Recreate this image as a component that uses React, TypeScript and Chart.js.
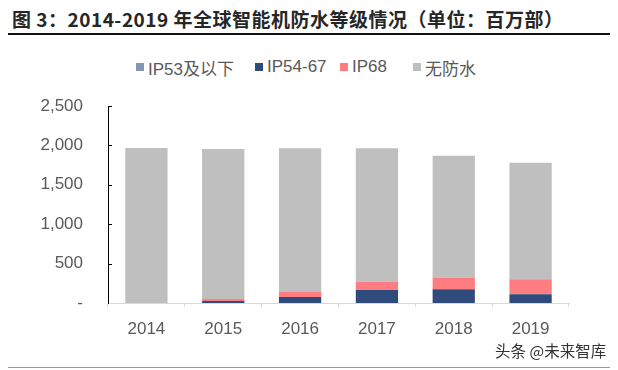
import React, { useEffect, useRef } from "react";
import { Chart, registerables } from "chart.js";

Chart.register(...registerables);

const categories = ["2014", "2015", "2016", "2017", "2018", "2019"];
const ip53Below = [0, 0, 0, 0, 0, 0];
const ip5467 = [0, 25, 75, 165, 175, 110];
const ip68 = [0, 25, 65, 105, 150, 190];
const noWaterproof = [1967, 1905, 1825, 1695, 1545, 1480];
const yTicks = [0, 500, 1000, 1500, 2000, 2500];

const legendItems = [
  { label: "IP53及以下", color: "#8497B0", x: 136 },
  { label: "IP54-67", color: "#2F4B7C", x: 255 },
  { label: "IP68", color: "#FF7C80", x: 340 },
  { label: "无防水", color: "#BFBFBF", x: 413 },
];

const innerTicks = {
  id: "innerTicks",
  afterDraw(chart: any) {
    const y = chart.scales.y;
    const ctx = chart.ctx;
    ctx.save();
    ctx.strokeStyle = "#000";
    ctx.lineWidth = 1;
    for (const v of yTicks) {
      if (v === 0) continue;
      const py = Math.round(y.getPixelForValue(v)) + 0.5;
      ctx.beginPath();
      ctx.moveTo(chart.chartArea.left, py);
      ctx.lineTo(chart.chartArea.left + 4, py);
      ctx.stroke();
    }
    ctx.restore();
  },
};

export default function App() {
  const ref = useRef<HTMLCanvasElement>(null);
  useEffect(() => {
    if (!ref.current) return;
    const font = "'Liberation Sans', Arial, sans-serif";
    const chart = new Chart(ref.current, {
      type: "bar",
      data: {
        labels: categories,
        datasets: [
          { label: "IP53及以下", data: ip53Below, backgroundColor: "#8497B0" },
          { label: "IP54-67", data: ip5467, backgroundColor: "#2F4B7C" },
          { label: "IP68", data: ip68, backgroundColor: "#FF7C80" },
          { label: "无防水", data: noWaterproof, backgroundColor: "#BFBFBF" },
        ],
      },
      options: {
        animation: false,
        responsive: false,
        layout: { padding: { left: 20, top: 106, right: 49, bottom: 0 } },
        datasets: { bar: { categoryPercentage: 1, barPercentage: 0.55 } } as any,
        plugins: { legend: { display: false }, tooltip: { enabled: false } },
        scales: {
          x: {
            stacked: true,
            afterFit: (s: any) => { s.height = 67; },
            grid: { display: true, drawOnChartArea: false, drawTicks: true, tickLength: 4, color: "#D9D9D9" },
            border: { display: true, color: "#D9D9D9" },
            ticks: { color: "#595959", font: { family: font, size: 17 }, padding: 12 },
          },
          y: {
            stacked: true,
            min: 0,
            max: 2500,
            afterFit: (s: any) => { s.width = 88; },
            afterBuildTicks: (s: any) => { s.ticks = yTicks.map((v) => ({ value: v })); },
            grid: { display: false, drawTicks: false },
            border: { display: true, color: "#000" },
            ticks: {
              color: "#595959",
              font: { family: font, size: 17 },
              padding: 25,
              callback: (v: any) => (Number(v) === 0 ? "-" : Number(v).toLocaleString("en-US")),
            },
          },
        },
      },
      plugins: [innerTicks],
    });
    return () => chart.destroy();
  }, []);

  return (
    <div style={{ position: "fixed", left: 0, top: 0, width: 618, height: 370, background: "#fff", overflow: "hidden" }}>
      <div
        style={{
          position: "absolute", left: 12, top: 7, fontFamily: "'Noto Sans CJK SC', sans-serif",
          fontWeight: 700, fontSize: 19, color: "#262626", whiteSpace: "nowrap", lineHeight: "24px", letterSpacing: 0.5,
        }}
      >
        图 3：2014-2019 年全球智能机防水等级情况（单位：百万部）
      </div>
      <div style={{ position: "absolute", left: 8, top: 33, width: 602, height: 2, background: "#111" }} />
      {legendItems.map((it) => (
        <div key={it.label} style={{ position: "absolute", left: it.x, top: 57, height: 20, display: "flex", alignItems: "center", whiteSpace: "nowrap" }}>
          <span style={{ display: "inline-block", width: 8, height: 8, background: it.color, marginRight: 4 }} />
          <span style={{ fontFamily: "'Liberation Sans', 'Noto Sans CJK SC', sans-serif", fontSize: 17, color: "#595959" }}>{it.label}</span>
        </div>
      ))}
      <canvas ref={ref} width={618} height={370} style={{ position: "absolute", left: 0, top: 0 }} />
      <div style={{ position: "absolute", left: 495, top: 340, fontFamily: "'Noto Sans CJK SC', sans-serif", fontSize: 15.5, color: "#333", whiteSpace: "nowrap", lineHeight: "20px" }}>
        头条 @未来智库
      </div>
      <div style={{ position: "absolute", left: 8, top: 367, width: 602, height: 1, background: "#999" }} />
    </div>
  );
}
